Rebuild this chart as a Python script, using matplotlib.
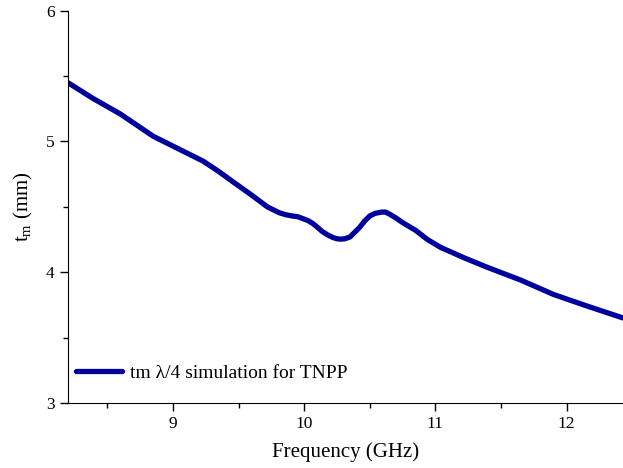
import numpy as np
import matplotlib
matplotlib.use("Agg")
import matplotlib.pyplot as plt
from matplotlib.ticker import MultipleLocator

plt.rcParams['font.family'] = ['Liberation Serif', 'DejaVu Serif']
plt.rcParams['mathtext.fontset'] = 'custom'
plt.rcParams['mathtext.rm'] = 'Liberation Serif'
plt.rcParams['mathtext.it'] = 'Liberation Serif:italic'

# frequency (GHz) and thickness t_m (mm)
freq = [8.20, 8.39, 8.60, 8.85, 9.05, 9.23, 9.35, 9.46, 9.60, 9.72, 9.81, 9.86,
        9.91, 9.95, 9.99, 10.03, 10.07, 10.10, 10.14, 10.18, 10.22, 10.25,
        10.28, 10.31, 10.35, 10.38, 10.42, 10.46, 10.50, 10.54, 10.59, 10.62,
        10.65, 10.70, 10.75, 10.85, 10.94, 11.04, 11.22, 11.39, 11.65, 11.90,
        12.16, 12.43]
tm = [5.45, 5.33, 5.21, 5.04, 4.94, 4.85, 4.77, 4.69, 4.59, 4.50, 4.455, 4.44,
      4.43, 4.425, 4.41, 4.395, 4.37, 4.345, 4.31, 4.285, 4.265, 4.256,
      4.253, 4.256, 4.27, 4.30, 4.34, 4.39, 4.43, 4.45, 4.46, 4.46,
      4.445, 4.415, 4.38, 4.32, 4.25, 4.19, 4.11, 4.04, 3.94, 3.83,
      3.74, 3.65]

fig = plt.figure(figsize=(6.23, 4.68), dpi=100)
ax = fig.add_axes([0.109, 0.139, 0.891, 0.838])
ax.plot(freq, tm, color='#00009C', lw=3.8, solid_capstyle='round',
        solid_joinstyle='round', label='tm \u03bb/4 simulation for TNPP')

ax.set_xlim(8.2, 12.43)
ax.set_ylim(3, 6)
ax.xaxis.set_major_locator(MultipleLocator(1))
ax.xaxis.set_minor_locator(MultipleLocator(0.5))
ax.yaxis.set_major_locator(MultipleLocator(1))
ax.yaxis.set_minor_locator(MultipleLocator(0.5))
ax.spines['top'].set_visible(False)
ax.spines['right'].set_visible(False)
ax.tick_params(which='major', direction='out', length=6, width=1, labelsize=12.5)
ax.tick_params(which='minor', direction='out', length=3.5, width=1)
ax.set_xlabel('Frequency (GHz)', fontsize=15, labelpad=7)
ax.set_ylabel(r't$_\mathrm{m}$ (mm)', fontsize=15, labelpad=8)
ax.legend(loc='center left', frameon=False, fontsize=14, handlelength=2.4,
          handletextpad=0.4, borderpad=0, borderaxespad=0,
          bbox_to_anchor=(0.014, 0.077))

plt.savefig("out.png", dpi=100)
